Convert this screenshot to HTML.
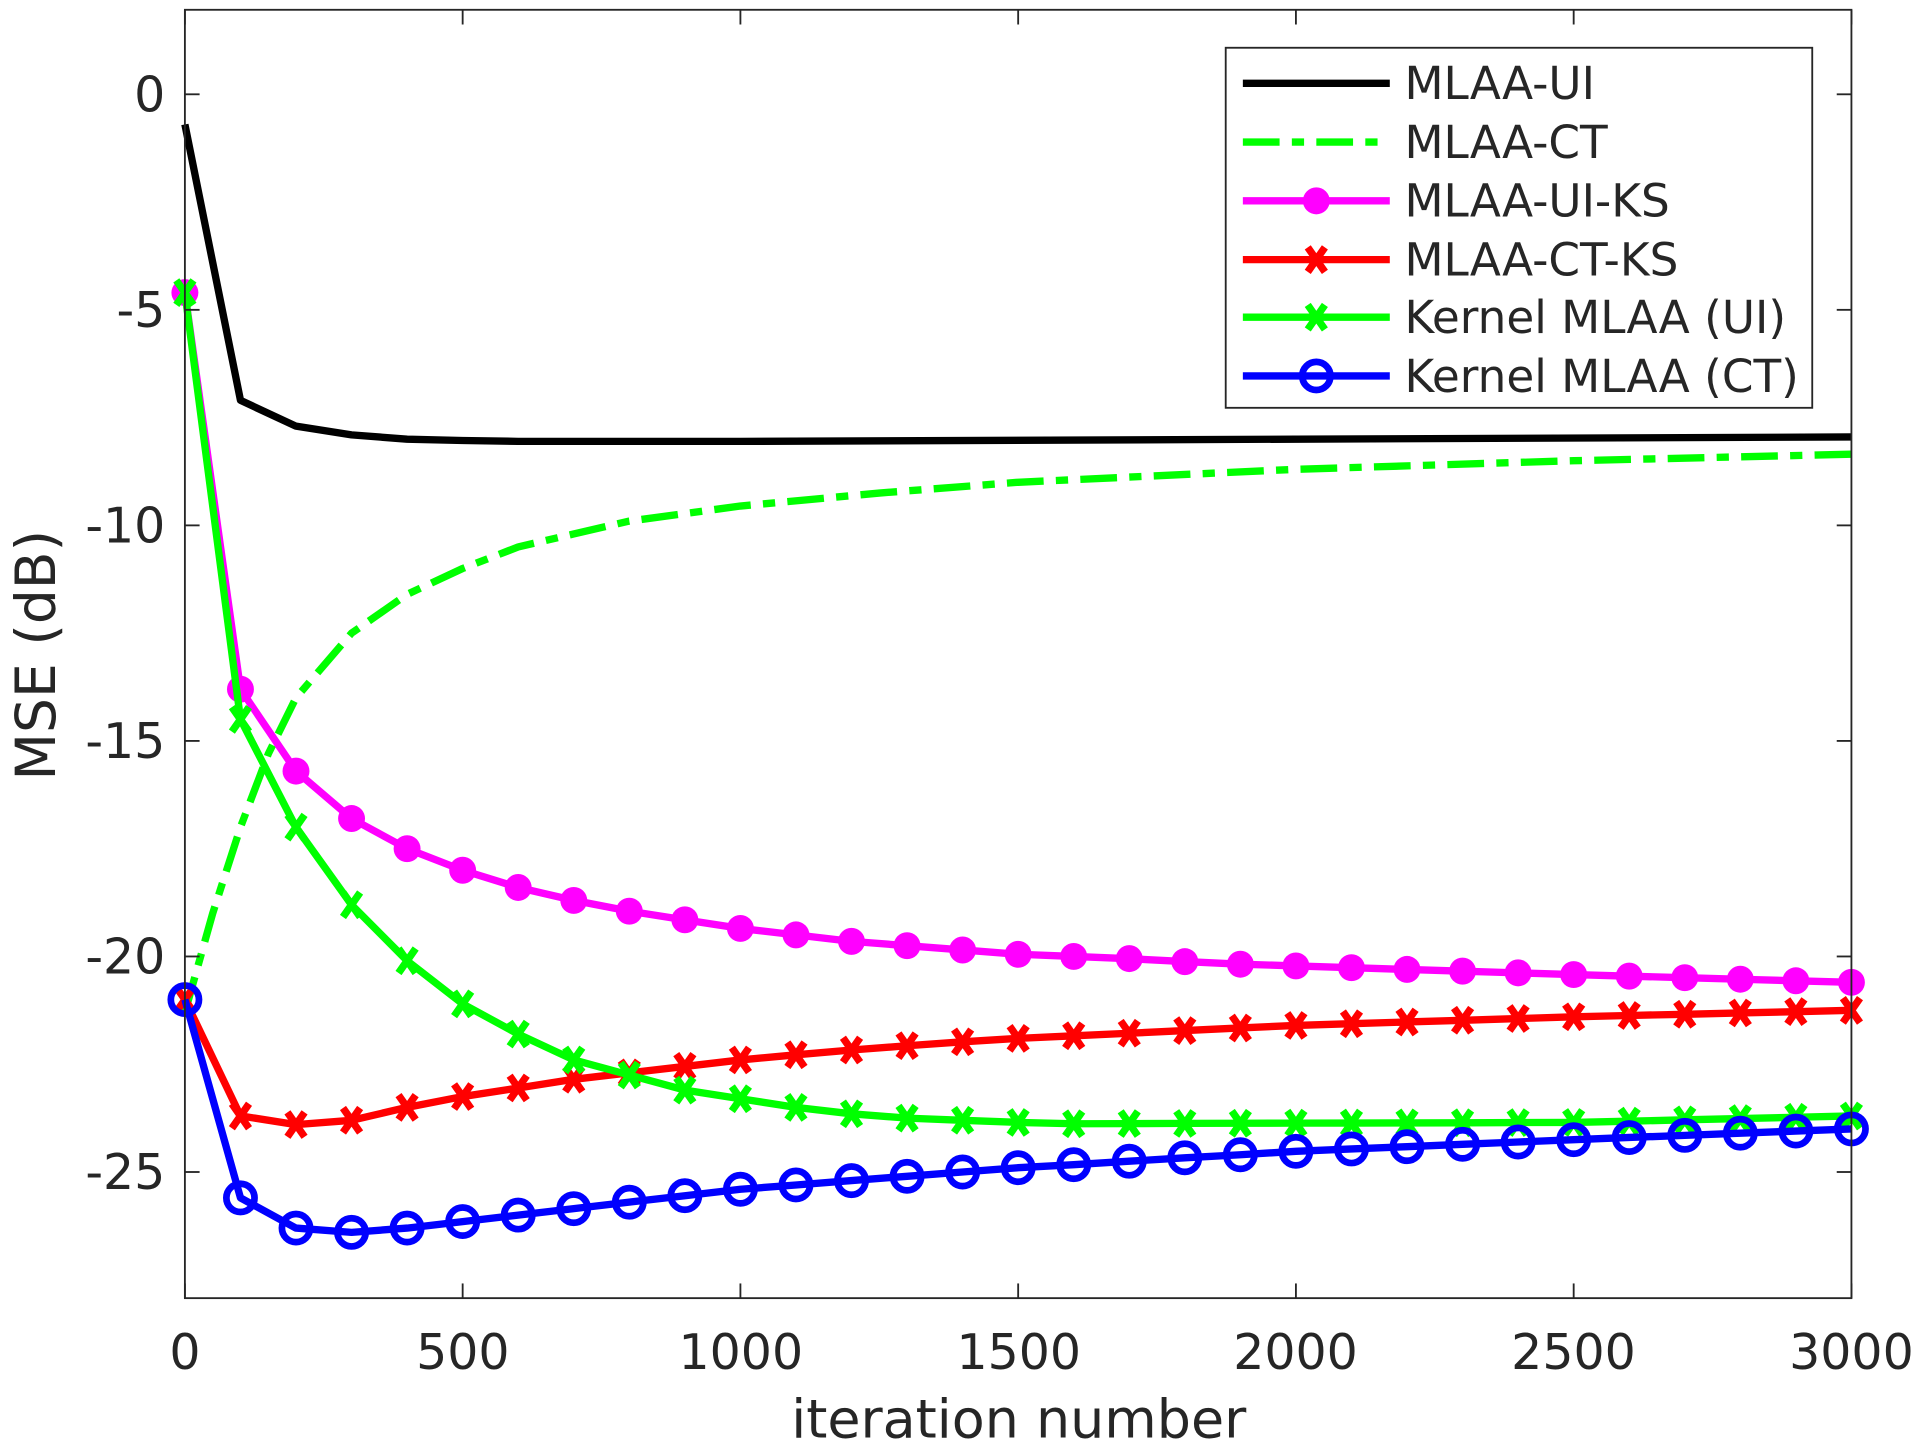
<!DOCTYPE html>
<html><head><meta charset="utf-8"><style>
html,body{margin:0;padding:0;background:#fff;}
svg{display:block;}
text{font-family:"DejaVu Sans","Liberation Sans",sans-serif;fill:#262626;}
</style></head><body>
<svg id="s" width="1920" height="1450" viewBox="0 0 1568 1184" preserveAspectRatio="none" xmlns="http://www.w3.org/2000/svg">
<rect x="0" y="0" width="1568" height="1184" fill="#fff"/>
<g id="series"></g>
<rect x="151" y="8" width="1361" height="1052" fill="none" stroke="#262626" stroke-width="1.5"/>
<g id="ticks" stroke="#262626" stroke-width="1.5"></g>
<g font-size="40" text-anchor="end">
<text x="135" y="91">0</text>
<text x="135" y="267">-5</text>
<text x="135" y="443">-10</text>
<text x="135" y="619">-15</text>
<text x="135" y="795">-20</text>
<text x="135" y="971">-25</text>
</g>
<g font-size="40" text-anchor="middle">
<text x="151" y="1118">0</text>
<text x="378" y="1118">500</text>
<text x="605" y="1118">1000</text>
<text x="832" y="1118">1500</text>
<text x="1058" y="1118">2000</text>
<text x="1285" y="1118">2500</text>
<text x="1512" y="1118">3000</text>
<text x="832" y="1174" font-size="44">iteration number</text>
<text transform="translate(45,535) rotate(-90)" font-size="45">MSE (dB)</text>
</g>
<rect x="1001" y="39" width="479" height="294" fill="#fff" stroke="#262626" stroke-width="1.5"/>
<g id="legend"></g>
<g font-size="37" fill="#000">
<text x="1147" y="81">MLAA-UI</text>
<text x="1147" y="129">MLAA-CT</text>
<text x="1147" y="177">MLAA-UI-KS</text>
<text x="1147" y="225">MLAA-CT-KS</text>
<text x="1147" y="272">Kernel MLAA (UI)</text>
<text x="1147" y="320">Kernel MLAA (CT)</text>
</g>
</svg>
<script>
const NS="http://www.w3.org/2000/svg";
const X=v=>151+v*1361/3000, Y=v=>77-35.2*v;
function el(p,t,a){const e=document.createElementNS(NS,t);for(const k in a)e.setAttribute(k,a[k]);p.appendChild(e);return e;}
const T=document.getElementById('ticks');
for(let v=0;v>=-25;v-=5){el(T,'line',{x1:151,x2:163,y1:Y(v),y2:Y(v)});el(T,'line',{x1:1500,x2:1512,y1:Y(v),y2:Y(v)});}
for(let v=0;v<=3000;v+=500){el(T,'line',{x1:X(v),x2:X(v),y1:1060,y2:1048});el(T,'line',{x1:X(v),x2:X(v),y1:8,y2:20});}
function interp(pts){const out=[];for(let i=0;i<=30;i++){const x=i*100;let j=0;while(j<pts.length-1&&pts[j+1][0]<x)j++;const a=pts[j],b=pts[Math.min(j+1,pts.length-1)];const t=b[0]==a[0]?0:(x-a[0])/(b[0]-a[0]);out.push([x,a[1]+(b[1]-a[1])*t]);}return out;}
const ui=[[0,-0.7],[100,-7.1],[200,-7.7],[300,-7.9],[400,-8.0],[500,-8.03],[600,-8.05],[1000,-8.05],[2000,-8.0],[3000,-7.95]];
const ct=[[0,-21.3],[50,-19],[100,-17],[150,-15.3],[200,-14],[300,-12.5],[400,-11.6],[500,-11],[600,-10.5],[700,-10.2],[800,-9.9],[1000,-9.55],[1250,-9.25],[1500,-9.0],[2000,-8.7],[2500,-8.5],[3000,-8.35]];
const mag=interp([[0,-4.6],[100,-13.8],[200,-15.7],[300,-16.8],[400,-17.5],[500,-18.0],[600,-18.4],[700,-18.7],[800,-18.95],[900,-19.15],[1000,-19.35],[1100,-19.5],[1200,-19.65],[1300,-19.75],[1400,-19.85],[1500,-19.95],[1600,-20.0],[1700,-20.05],[1800,-20.12],[1900,-20.18],[2000,-20.22],[2500,-20.42],[3000,-20.6]]);
const red=interp([[0,-21],[100,-23.7],[200,-23.9],[300,-23.8],[400,-23.5],[500,-23.25],[600,-23.05],[700,-22.85],[800,-22.7],[900,-22.55],[1000,-22.4],[1100,-22.28],[1200,-22.17],[1300,-22.07],[1400,-21.98],[1500,-21.9],[2000,-21.6],[2500,-21.4],[3000,-21.25]]);
const gk=interp([[0,-4.6],[100,-14.5],[200,-17.0],[300,-18.8],[400,-20.1],[500,-21.1],[600,-21.8],[700,-22.4],[800,-22.75],[900,-23.1],[1000,-23.3],[1100,-23.5],[1200,-23.65],[1300,-23.75],[1400,-23.8],[1500,-23.85],[1600,-23.88],[2500,-23.85],[3000,-23.7]]);
const bl=interp([[0,-21],[100,-25.6],[200,-26.3],[300,-26.4],[400,-26.3],[500,-26.15],[600,-26.0],[700,-25.85],[800,-25.7],[900,-25.55],[1000,-25.4],[1100,-25.3],[1200,-25.2],[1300,-25.1],[1400,-25.0],[1500,-24.9],[1600,-24.83],[1700,-24.75],[1800,-24.67],[1900,-24.6],[2000,-24.52],[2500,-24.25],[3000,-24.0]]);
const G=document.getElementById('series');
function line(pts,c,extra){const d=pts.map((p,i)=>(i?'L':'M')+X(p[0]).toFixed(1)+' '+Y(p[1]).toFixed(1)).join(' ');el(G,'path',Object.assign({d:d,fill:'none',stroke:c,'stroke-width':6,'stroke-linejoin':'round'},extra||{}));}
function cross(g,x,y,c){el(g,'path',{d:`M${x-7} ${y-10}L${x+7} ${y+10}M${x-7} ${y+10}L${x+7} ${y-10}`,stroke:c,'stroke-width':6,fill:'none'});}
function markers(pts,c,type){for(const p of pts){const x=X(p[0]),y=Y(p[1]);if(type=='dot')el(G,'circle',{cx:x,cy:y,r:11,fill:c});else if(type=='o')el(G,'circle',{cx:x,cy:y,r:11.5,fill:'none',stroke:c,'stroke-width':5.5});else cross(G,x,y,c);}}
line(ui,'#000');
line(ct,'#00ff00',{'stroke-dasharray':'30 10 10 10'});
line(mag,'#ff00ff');markers(mag,'#ff00ff','dot');
line(red,'#ff0000');markers(red,'#ff0000','x');
line(gk,'#00ff00');markers(gk,'#00ff00','x');
line(bl,'#0000ff');markers(bl,'#0000ff','o');
const L=document.getElementById('legend');
const ys=[68,116,164,212,259,307];
el(L,'line',{x1:1015,x2:1135,y1:ys[0],y2:ys[0],stroke:'#000','stroke-width':6});
el(L,'line',{x1:1015,x2:1135,y1:ys[1],y2:ys[1],stroke:'#00ff00','stroke-width':6,'stroke-dasharray':'30 10 10 10'});
el(L,'line',{x1:1015,x2:1135,y1:ys[2],y2:ys[2],stroke:'#ff00ff','stroke-width':6});el(L,'circle',{cx:1075,cy:ys[2],r:11,fill:'#ff00ff'});
el(L,'line',{x1:1015,x2:1135,y1:ys[3],y2:ys[3],stroke:'#ff0000','stroke-width':6});cross(L,1075,ys[3],'#ff0000');
el(L,'line',{x1:1015,x2:1135,y1:ys[4],y2:ys[4],stroke:'#00ff00','stroke-width':6});cross(L,1075,ys[4],'#00ff00');
el(L,'line',{x1:1015,x2:1135,y1:ys[5],y2:ys[5],stroke:'#0000ff','stroke-width':6});el(L,'circle',{cx:1075,cy:ys[5],r:11.5,fill:'none',stroke:'#0000ff','stroke-width':5.5});
</script>
</body></html>
